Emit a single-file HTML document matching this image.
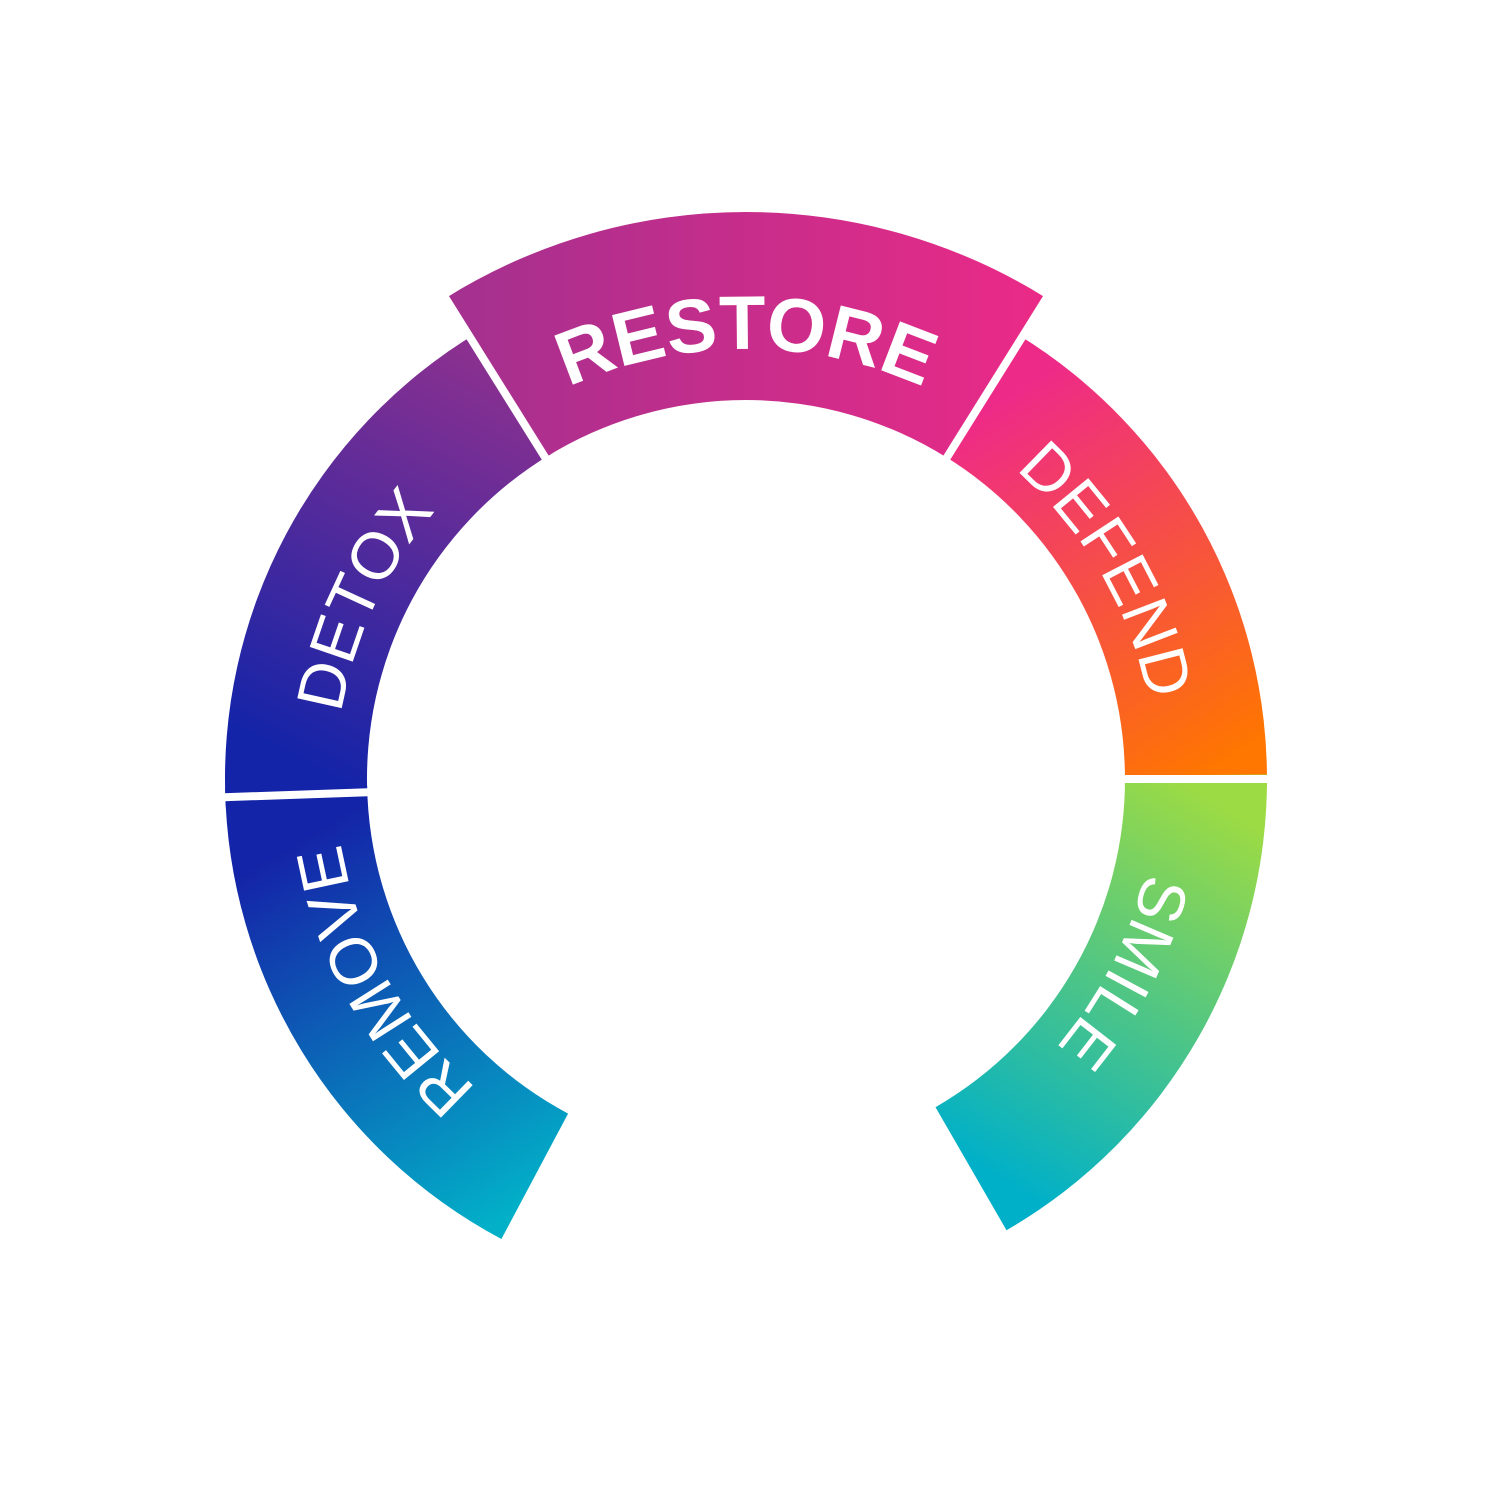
<!DOCTYPE html>
<html><head><meta charset="utf-8"><style>html,body{margin:0;padding:0;background:#fff}svg{display:block}</style></head>
<body>
<svg id="s" width="1500" height="1500" viewBox="0 0 1500 1500" xmlns="http://www.w3.org/2000/svg">
<defs>
<linearGradient id="gRem" gradientUnits="userSpaceOnUse" x1="300" y1="840" x2="520" y2="1210"><stop offset="0" stop-color="#1424a8"/><stop offset="1" stop-color="#02b0c8"/></linearGradient>
<linearGradient id="gDet" gradientUnits="userSpaceOnUse" x1="300" y1="760" x2="500" y2="370"><stop offset="0" stop-color="#1424a8"/><stop offset="1" stop-color="#8a3090"/></linearGradient>
<linearGradient id="gRes" gradientUnits="userSpaceOnUse" x1="450" y1="300" x2="1050" y2="300"><stop offset="0" stop-color="#a3308f"/><stop offset="1" stop-color="#ec2a87"/></linearGradient>
<linearGradient id="gDef" gradientUnits="userSpaceOnUse" x1="1000" y1="400" x2="1230" y2="760"><stop offset="0" stop-color="#ee2a88"/><stop offset="1" stop-color="#ff7600"/></linearGradient>
<linearGradient id="gSmi" gradientUnits="userSpaceOnUse" x1="1230" y1="810" x2="1000" y2="1180"><stop offset="0" stop-color="#9cdb44"/><stop offset="1" stop-color="#00b0c8"/></linearGradient>
</defs>
<g id="segs"></g>
<g id="txt" fill="#fff" font-family="Liberation Sans, sans-serif"></g>
</svg>
<script>
var cx=746,cy=779,NS="http://www.w3.org/2000/svg";
function P(r,a){a=a*Math.PI/180;return [(cx+r*Math.cos(a)).toFixed(1),(cy+r*Math.sin(a)).toFixed(1)];}
function seg(a1,a2,ri,ro,fill){
 var p1=P(ro,a1),p2=P(ro,a2),p3=P(ri,a2),p4=P(ri,a1),lg=(a2-a1)>180?1:0;
 var d="M"+p1+" A"+ro+" "+ro+" 0 "+lg+" 1 "+p2+" L"+p3+" A"+ri+" "+ri+" 0 "+lg+" 0 "+p4+"Z";
 var e=document.createElementNS(NS,"path");e.setAttribute("d",d);e.setAttribute("fill",fill);
 document.getElementById("segs").appendChild(e);}
function line(a,r1,r2){var p=P(r1,a),q=P(r2,a);var e=document.createElementNS(NS,"line");
 e.setAttribute("x1",p[0]);e.setAttribute("y1",p[1]);e.setAttribute("x2",q[0]);e.setAttribute("y2",q[1]);
 e.setAttribute("stroke","#fff");e.setAttribute("stroke-width","8");document.getElementById("segs").appendChild(e);}
seg(118,179,379,521,"url(#gRem)");
seg(177,239,379,521,"url(#gDet)");
seg(238,302,379,567,"url(#gRes)");
seg(301.5,361,379,521,"url(#gDef)");
seg(359.5,60,379,521,"url(#gSmi)");
line(178,375,526);line(238,375,572);line(302,375,572);line(0,375,526);
var n=0;
function txt(str,a1,a2,r,fs,wt){
 var id="tp"+(n++);var p1=P(r,a1),p2=P(r,a2);
 var e=document.createElementNS(NS,"path");e.setAttribute("id",id);e.setAttribute("fill","none");
 e.setAttribute("d","M"+p1+" A"+r+" "+r+" 0 0 1 "+p2);document.getElementById("segs").appendChild(e);
 var t=document.createElementNS(NS,"text");t.setAttribute("font-size",fs);t.setAttribute("font-weight",wt);
 var tp=document.createElementNS(NS,"textPath");tp.setAttribute("href","#"+id);tp.setAttribute("startOffset","50%");
 tp.setAttribute("text-anchor","middle");tp.textContent=str;t.appendChild(tp);document.getElementById("txt").appendChild(t);}
txt("RESTORE",200,340,430,76,"bold");
txt("DETOX",170,240,410,66,"normal");
txt("DEFEND",295,365,410,66,"normal");
txt("REMOVE",116,186,410,66,"normal");
txt("SMILE",-8,62,410,66,"normal");
</script>
</body></html>
